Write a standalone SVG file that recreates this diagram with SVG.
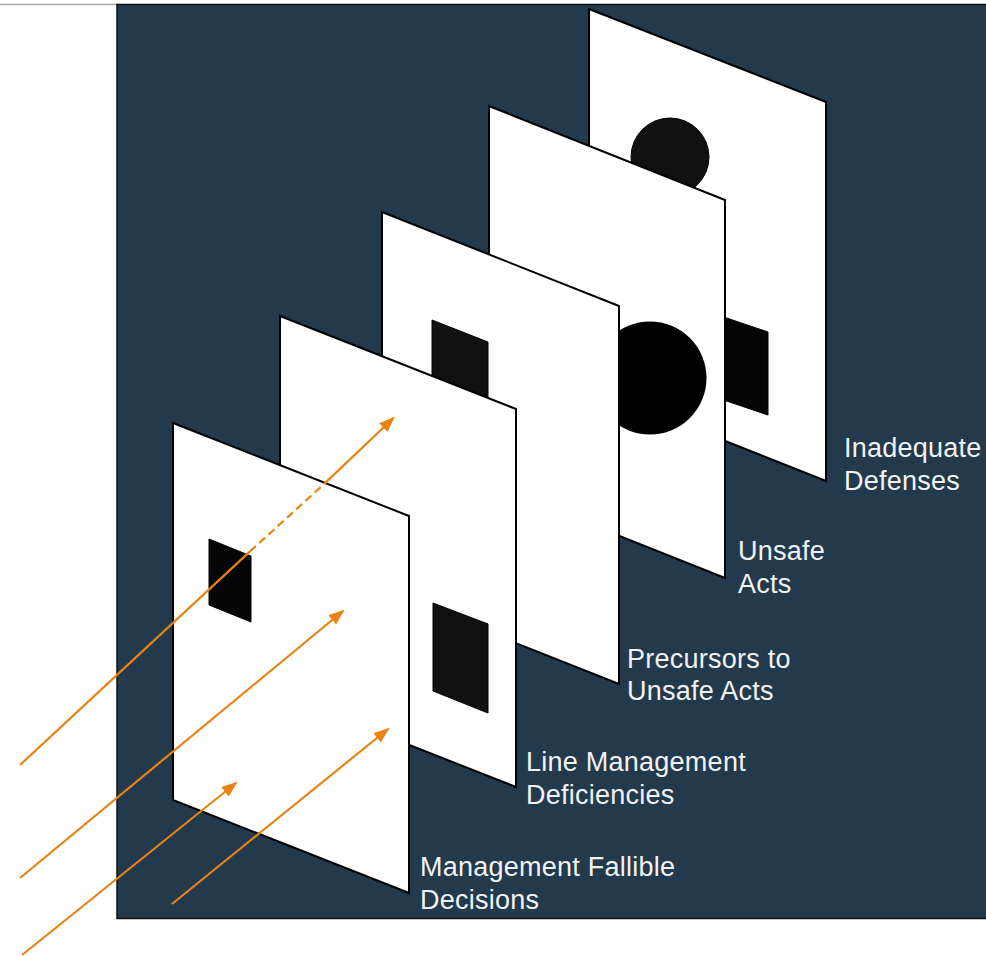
<svg xmlns="http://www.w3.org/2000/svg" width="986" height="956" viewBox="0 0 986 956">
<defs>
<style>
.panel{fill:#ffffff;stroke:#000000;stroke-width:2;stroke-linejoin:miter}
.hole{fill:#111111;stroke:#000000;stroke-width:1}
.hole-dark{fill:#050505;stroke:#000000;stroke-width:1}
.lbl{fill:#f2f2f2;font-family:"Liberation Sans",Arial,sans-serif;font-size:27px;letter-spacing:0.25px}
.arr{fill:none;stroke:#E88314;stroke-width:2.2}
.dash{stroke-dasharray:8 4.5}
</style>
<marker id="ah" viewBox="0 0 16 12" refX="14" refY="6" markerWidth="16" markerHeight="12" markerUnits="userSpaceOnUse" orient="auto">
<path d="M0,0 L16,6 L0,12 z" fill="#E88314"/>
</marker>
</defs>
<rect x="0" y="0" width="986" height="956" fill="#ffffff"/>
<line x1="0" y1="4.5" x2="118" y2="4.5" stroke="#a6a6a6" stroke-width="1.5"/>
<rect id="background" x="117" y="4.5" width="880" height="914" fill="#223A4C" stroke="#111111" stroke-width="1.5"/>

<g id="panel-inadequate-defenses">
<polygon class="panel" points="589,9 826,102 826,481 589,387"/>
<circle cx="670" cy="157" r="39" fill="#111111" stroke="#000" stroke-width="1"/>
<polygon class="hole-dark" points="700,309 768,332 768,415 700,392"/>
<text class="lbl" x="844" y="457">Inadequate</text>
<text class="lbl" x="844" y="490">Defenses</text>
</g>

<g id="panel-unsafe-acts">
<polygon class="panel" points="489,106 725,200 725,578 489,484"/>
<circle cx="650" cy="378" r="56.5" fill="#000000"/>
<text class="lbl" x="738" y="560">Unsafe</text>
<text class="lbl" x="738" y="593">Acts</text>
</g>

<g id="panel-precursors">
<polygon class="panel" points="382,212 619,306 619,684 382,590"/>
<polygon class="hole" points="432,320 488,342 488,430 432,408"/>
<text class="lbl" x="627" y="668">Precursors to</text>
<text class="lbl" x="627" y="700">Unsafe Acts</text>
</g>

<g id="panel-line-management">
<polygon class="panel" points="280,316 516,409 516,787 280,694"/>
<polygon class="hole" points="433,603 488,624 488,713 433,691"/>
<text class="lbl" x="526" y="771">Line Management</text>
<text class="lbl" x="526" y="804">Deficiencies</text>
</g>

<g id="panel-management-decisions">
<polygon class="panel" points="173,423 409,516 409,893 173,800"/>
<polygon class="hole-dark" points="209,539 251,556 251,622 209,605"/>
<text class="lbl" x="420" y="876">Management Fallible</text>
<text class="lbl" x="420" y="909">Decisions</text>
</g>

<g id="connectors">
<path class="arr" d="M20,765 L250,551.4"/>
<path class="arr dash" d="M250,551.4 L324.2,483.9"/>
<path class="arr" d="M324.2,483.9 L393.5,418" marker-end="url(#ah)"/>
<path class="arr" d="M20,878 L343,611" marker-end="url(#ah)"/>
<path class="arr" d="M22,955 L236,783" marker-end="url(#ah)"/>
<path class="arr" d="M172,904 L388,729" marker-end="url(#ah)"/>
</g>
</svg>
